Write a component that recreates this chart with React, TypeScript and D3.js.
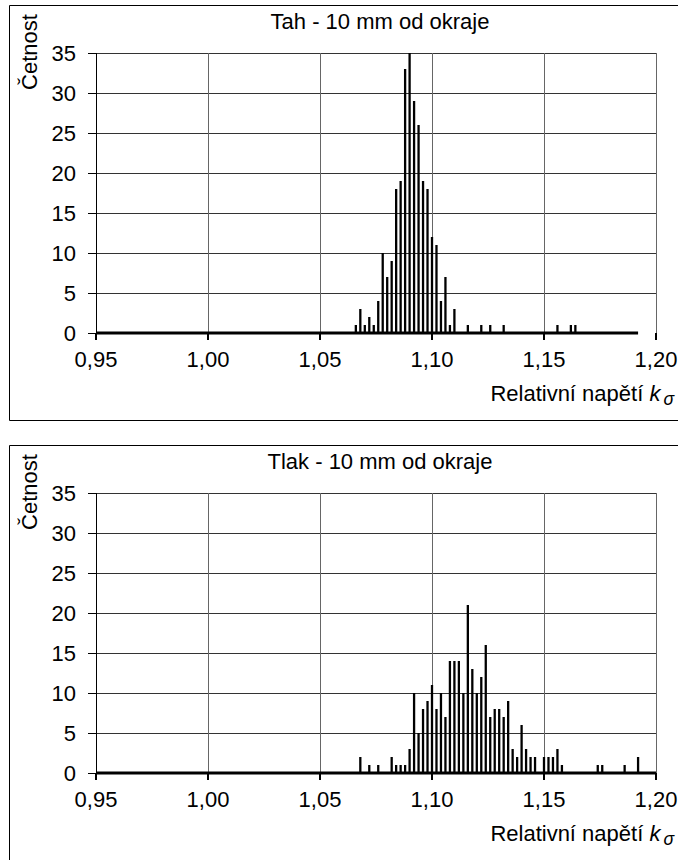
import React, { useEffect, useRef } from "react";
import * as d3 from "d3";

// Tah - 10 mm od okraje
const tahK = [1.066, 1.068, 1.07, 1.072, 1.074, 1.076, 1.078, 1.08, 1.082, 1.084, 1.086, 1.088, 1.09, 1.092, 1.094, 1.096, 1.098, 1.1, 1.102, 1.104, 1.106, 1.108, 1.11, 1.116, 1.122, 1.126, 1.132, 1.156, 1.162, 1.164];
const tahCounts = [1, 3, 1, 2, 1, 4, 10, 7, 9, 18, 19, 33, 35, 29, 26, 19, 18, 12, 11, 4, 7, 1, 3, 1, 1, 1, 1, 1, 1, 1];
const tahRange = [0.95, 1.192];

// Tlak - 10 mm od okraje
const tlakK = [1.068, 1.072, 1.076, 1.082, 1.084, 1.086, 1.088, 1.09, 1.092, 1.094, 1.096, 1.098, 1.1, 1.102, 1.104, 1.106, 1.108, 1.11, 1.112, 1.114, 1.116, 1.118, 1.12, 1.122, 1.124, 1.126, 1.128, 1.13, 1.132, 1.134, 1.136, 1.138, 1.14, 1.142, 1.144, 1.146, 1.15, 1.152, 1.154, 1.156, 1.158, 1.174, 1.176, 1.186, 1.192];
const tlakCounts = [2, 1, 1, 2, 1, 1, 1, 3, 10, 5, 8, 9, 11, 8, 10, 7, 14, 14, 14, 10, 21, 13, 10, 12, 16, 7, 8, 8, 7, 9, 3, 2, 6, 3, 2, 2, 2, 2, 2, 3, 1, 1, 1, 1, 2];
const tlakRange = [0.95, 1.2];

const xTicks = [0.95, 1.0, 1.05, 1.1, 1.15, 1.2];
const yTicks = [0, 5, 10, 15, 20, 25, 30, 35];

const FONT = "'Liberation Sans', Arial, sans-serif";
const FS = 22;

function drawChart(svg, oy, title, ks, counts, range) {
  const g = svg.append("g").attr("transform", `translate(0,${oy})`);

  const x = d3.scaleLinear().domain([0.95, 1.2]).range([96, 656]);
  const y = d3.scaleLinear().domain([0, 35]).range([333, 53]);

  // outer frame (right side is cropped)
  g.append("path")
    .attr("d", "M700,5.5 H9.5 V420.5 H700")
    .attr("fill", "none")
    .attr("stroke", "#000")
    .attr("stroke-width", 1);

  // grid
  g.selectAll(".hgrid")
    .data(yTicks.filter(d => d > 0))
    .enter()
    .append("line")
    .attr("x1", x(0.95))
    .attr("x2", x(1.2))
    .attr("y1", d => Math.round(y(d)) + 0.5)
    .attr("y2", d => Math.round(y(d)) + 0.5)
    .attr("stroke", "#333");

  g.selectAll(".vgrid")
    .data(xTicks.filter(d => d > 0.96))
    .enter()
    .append("line")
    .attr("x1", d => Math.round(x(d)) + 0.5)
    .attr("x2", d => Math.round(x(d)) + 0.5)
    .attr("y1", y(35))
    .attr("y2", y(0))
    .attr("stroke", "#666");

  // y axis
  g.append("line")
    .attr("x1", 96.5).attr("x2", 96.5)
    .attr("y1", y(35)).attr("y2", y(0))
    .attr("stroke", "#000");
  g.selectAll(".ytick")
    .data(yTicks)
    .enter()
    .append("line")
    .attr("x1", 88).attr("x2", 96)
    .attr("y1", d => Math.round(y(d)) + 0.5)
    .attr("y2", d => Math.round(y(d)) + 0.5)
    .attr("stroke", "#000");
  g.selectAll(".ylab")
    .data(yTicks)
    .enter()
    .append("text")
    .attr("x", 76)
    .attr("y", d => y(d))
    .attr("dy", "0.36em")
    .attr("text-anchor", "end")
    .attr("font-family", FONT)
    .attr("font-size", FS)
    .text(d => d);

  // bars
  g.selectAll(".bar")
    .data(ks.map((k, i) => [k, counts[i]]))
    .enter()
    .append("line")
    .attr("x1", d => x(d[0]))
    .attr("x2", d => x(d[0]))
    .attr("y1", y(0))
    .attr("y2", d => y(d[1]))
    .attr("stroke", "#000")
    .attr("stroke-width", 2.3);

  // baseline (zero-count bins)
  g.append("line")
    .attr("x1", x(range[0]))
    .attr("x2", x(range[1]))
    .attr("y1", y(0))
    .attr("y2", y(0))
    .attr("stroke", "#000")
    .attr("stroke-width", 3);

  // x ticks
  g.selectAll(".xtick")
    .data(xTicks)
    .enter()
    .append("line")
    .attr("x1", d => x(d))
    .attr("x2", d => x(d))
    .attr("y1", y(0))
    .attr("y2", y(0) + 7)
    .attr("stroke", "#000")
    .attr("stroke-width", 2);
  g.selectAll(".xlab")
    .data(xTicks)
    .enter()
    .append("text")
    .attr("x", d => x(d))
    .attr("y", y(0) + 26)
    .attr("dy", "0.36em")
    .attr("text-anchor", "middle")
    .attr("font-family", FONT)
    .attr("font-size", FS)
    .text(d => d3.format(".2f")(d).replace(".", ","));

  // titles
  g.append("text")
    .attr("x", 380)
    .attr("y", 21)
    .attr("dy", "0.36em")
    .attr("text-anchor", "middle")
    .attr("font-family", FONT)
    .attr("font-size", FS)
    .text(title);

  g.append("text")
    .attr("transform", "translate(29,52) rotate(-90)")
    .attr("dy", "0.36em")
    .attr("text-anchor", "middle")
    .attr("font-family", FONT)
    .attr("font-size", FS)
    .text("Četnost");

  const xl = g.append("text")
    .attr("x", 674)
    .attr("y", 393)
    .attr("dy", "0.36em")
    .attr("text-anchor", "end")
    .attr("font-family", FONT)
    .attr("font-size", FS);
  xl.append("tspan").text("Relativní napětí ");
  xl.append("tspan").attr("font-style", "italic").text("k");
  xl.append("tspan").attr("font-style", "italic").attr("font-size", FS * 0.8).attr("dx", 3).attr("dy", 4).text("σ");
}

export default function App() {
  const ref = useRef(null);

  useEffect(() => {
    const svg = d3.select(ref.current);
    svg.selectAll("*").remove();
    drawChart(svg, 0, "Tah - 10 mm od okraje", tahK, tahCounts, tahRange);
    drawChart(svg, 440, "Tlak - 10 mm od okraje", tlakK, tlakCounts, tlakRange);
  }, []);

  return (
    <svg
      ref={ref}
      width={678}
      height={860}
      style={{ position: "absolute", left: 0, top: 0, background: "#fff" }}
    />
  );
}
